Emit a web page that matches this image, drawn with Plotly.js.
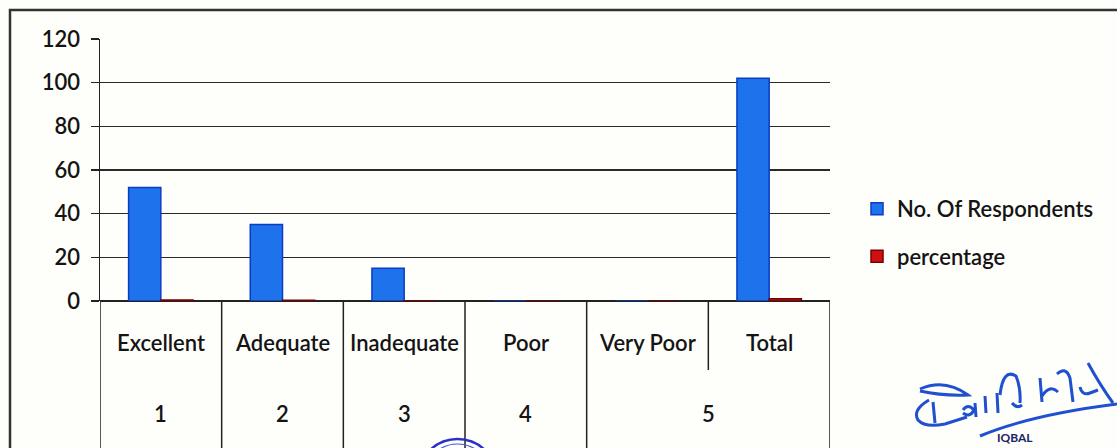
<!DOCTYPE html>
<html>
<head>
<meta charset="utf-8">
<script src="https://cdn.plot.ly/plotly-3.0.1.min.js"></script>
<style>html,body{margin:0;padding:0;background:#fefefa;}#chart{width:1117px;height:448px;}</style>
</head>
<body>
<div id="chart"></div>
<script>
// Data
const categories = ["Excellent", "Adequate", "Inadequate", "Poor", "Very Poor", "Total"];
const groupLabels = ["1", "2", "3", "4", "5"];
const groupSpans = [[0, 0], [1, 1], [2, 2], [3, 3], [4, 5]];
const respondents = [52, 35, 15, 0, 0, 102];
const percentage = [0.51, 0.34, 0.15, 0, 0, 1.0];
const yTicks = [0, 20, 40, 60, 80, 100, 120];

const FONT = "Lato, 'Open Sans', sans-serif";
const TXT = "#141414";
const idx = categories.map((c, i) => i);

const traces = [
  {
    type: "bar", name: "No. Of Respondents", x: idx, y: respondents,
    marker: { color: "#1e72ec", line: { color: "#0a3dc4", width: 1.5 } },
    legendgroup: "a"
  },
  {
    type: "bar", name: "percentage", x: idx, y: percentage,
    marker: { color: "#d01010", line: { color: "#7a0000", width: 1.5 } },
    legendgroup: "b"
  }
];

const shapes = [];
const annotations = [];
const plotH = 262, plotW = 730;
const py = px => -(px - 301) / plotH;       // pixel y -> paper y
const pxp = px => (px - 100) / plotW;       // pixel x -> paper x
const P = (x, y) => pxp(x) + "," + (-(y - 301) / plotH);

// Category boundary dividers
for (let i = 0; i <= categories.length; i++) {
  const b = i - 0.5;
  let inner = false;
  groupSpans.forEach(s => { if (b > s[0] - 0.5 && b < s[1] + 0.5) inner = true; });
  shapes.push({
    type: "line", xref: "x", yref: "paper", x0: b, x1: b,
    y0: 0, y1: inner ? py(370) : py(460),
    line: { color: "#222", width: 1.5 }
  });
}

const labFont = { family: FONT, size: 22, color: TXT, weight: 600 };
categories.forEach((c, i) => {
  annotations.push({
    xref: "x", yref: "paper", x: i, y: py(342), text: c, showarrow: false,
    xanchor: "center", yanchor: "middle", font: labFont
  });
});
groupLabels.forEach((g, k) => {
  const s = groupSpans[k];
  annotations.push({
    xref: "x", yref: "paper", x: (s[0] + s[1]) / 2, y: py(413), text: g, showarrow: false,
    xanchor: "center", yanchor: "middle", font: labFont
  });
});

// Outer frame of the figure
shapes.push({
  type: "rect", xref: "paper", yref: "paper",
  x0: pxp(10), x1: pxp(1140), y0: py(470), y1: py(10),
  line: { color: "#333", width: 2.5 }
});

// Stamp edge at bottom
shapes.push({
  type: "circle", xref: "paper", yref: "paper",
  x0: pxp(418), x1: pxp(497), y0: py(518), y1: py(439),
  line: { color: "#2a2fc8", width: 2.5 }
});
shapes.push({
  type: "circle", xref: "paper", yref: "paper",
  x0: pxp(424), x1: pxp(491), y0: py(512), y1: py(444),
  line: { color: "#4a5ad8", width: 1.2 }
});

// Signature strokes
const sig = [
  "M" + P(920, 389) + " Q" + P(945, 378) + " " + P(968, 395) + " Q" + P(942, 396) + " " + P(920, 391),
  "M" + P(929, 400) + " Q" + P(912, 410) + " " + P(918, 420) + " Q" + P(925, 428) + " " + P(945, 424) + " L" + P(967, 417),
  "M" + P(933, 402) + " L" + P(935, 423),
  "M" + P(963, 410) + " Q" + P(968, 403) + " " + P(974, 410) + " Q" + P(970, 418) + " " + P(963, 413),
  "M" + P(975, 403) + " L" + P(976, 417),
  "M" + P(985, 396) + " L" + P(986, 413),
  "M" + P(997, 393) + " L" + P(998, 413),
  "M" + P(1000, 395) + " Q" + P(1003, 368) + " " + P(1016, 376) + " Q" + P(1021, 388) + " " + P(1020, 403),
  "M" + P(1012, 403) + " Q" + P(1017, 409) + " " + P(1022, 405),
  "M" + P(1040, 378) + " L" + P(1042, 402),
  "M" + P(1042, 396) + " Q" + P(1050, 384) + " " + P(1058, 392),
  "M" + P(1057, 374) + " Q" + P(1066, 366) + " " + P(1070, 378) + " L" + P(1073, 402),
  "M" + P(1080, 387) + " Q" + P(1082, 396) + " " + P(1090, 393) + " L" + P(1098, 390),
  "M" + P(1088, 363) + " Q" + P(1100, 385) + " " + P(1113, 403),
  "M" + P(980, 436) + " Q" + P(1030, 415) + " " + P(1117, 404)
];
sig.forEach(d => shapes.push({
  type: "path", xref: "paper", yref: "paper", path: d,
  line: { color: "#1f50d0", width: 3 }
}));

annotations.push({
  xref: "paper", yref: "paper", x: pxp(1015), y: py(447), text: "IQBAL", showarrow: false,
  xanchor: "center", yanchor: "bottom", font: { family: FONT, size: 12, color: "#1a2466", weight: 700 }
});

const layout = {
  width: 1117, height: 448,
  margin: { l: 100, r: 287, t: 39, b: 147 },
  paper_bgcolor: "#fefefa", plot_bgcolor: "#fefefa",
  barmode: "group", bargap: 0.47, bargroupgap: 0,
  showlegend: true,
  legend: {
    x: 1.037, y: 0.26, xanchor: "left", yanchor: "middle",
    font: { family: FONT, size: 22, color: TXT, weight: 600 },
    traceorder: "grouped", tracegroupgap: 16, bgcolor: "rgba(0,0,0,0)",
    itemwidth: 30
  },
  xaxis: {
    type: "linear", range: [-0.5, 5.5], showticklabels: false, showgrid: false,
    zeroline: false, showline: false, ticks: "", fixedrange: true
  },
  yaxis: {
    range: [0, 120], tickvals: yTicks, ticktext: yTicks.map(String),
    showgrid: true, gridcolor: "#2a2a2a", gridwidth: 1.5,
    showline: true, linecolor: "#222", linewidth: 1.5,
    ticks: "outside", ticklen: 8, tickcolor: "#222", tickwidth: 1.5,
    ticklabelstandoff: 6,
    zeroline: true, zerolinecolor: "#222", zerolinewidth: 1.5,
    tickfont: { family: FONT, size: 22, color: TXT, weight: 600 },
    fixedrange: true
  },
  shapes: shapes, annotations: annotations,
  font: { family: FONT }
};

Plotly.newPlot("chart", traces, layout, { displayModeBar: false, staticPlot: true });
</script>
</body>
</html>
